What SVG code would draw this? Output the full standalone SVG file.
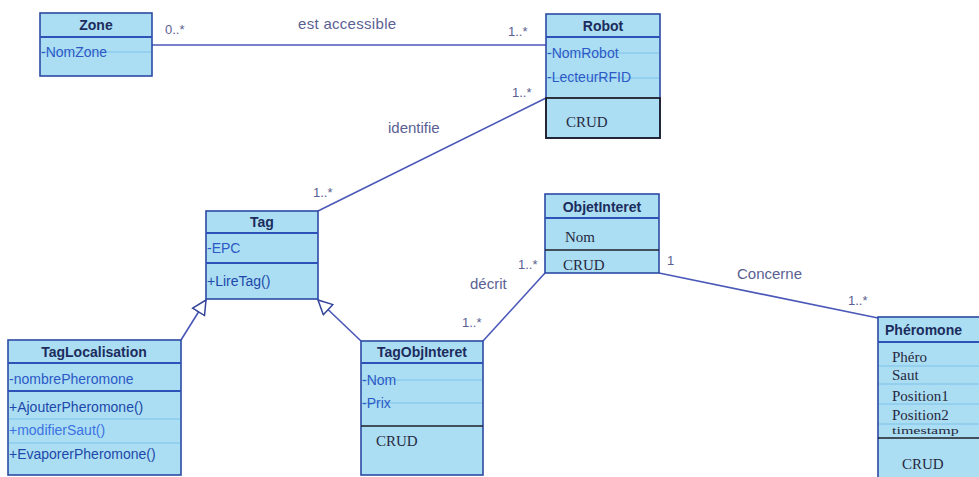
<svg xmlns="http://www.w3.org/2000/svg" width="979" height="477" viewBox="0 0 979 477">
  <style>
    .box { fill: #abdef2; stroke: #2b4aa3; stroke-width: 1.6; }
    .hdr { stroke: #2f52b8; stroke-width: 2; }
    .div { stroke: #1e1e2a; stroke-width: 1.6; }
    .row { stroke: #7cc0ea; stroke-width: 1; }
    .title { font-family: "Liberation Sans", Arial, sans-serif; font-size: 14px; font-weight: bold; fill: #1c2c5e; text-anchor: middle; }
    .attr { font-family: "Liberation Sans", Arial, sans-serif; font-size: 14px; fill: #2c59c6; }
    .op { font-family: "Liberation Sans", Arial, sans-serif; font-size: 14px; fill: #2048aa; }
    .op2 { font-family: "Liberation Sans", Arial, sans-serif; font-size: 14px; fill: #3b72e2; }
    .serif { font-family: "Liberation Serif", "Times New Roman", serif; font-size: 15px; fill: #27283e; }
    .lbl { font-family: "Liberation Sans", Arial, sans-serif; font-size: 15px; fill: #5a6192; }
    .mult { font-family: "Liberation Sans", Arial, sans-serif; font-size: 13px; fill: #5a6192; }
    .conn { stroke: #4a58b8; stroke-width: 1.6; fill: none; }
  </style>
  <defs>
    <marker id="gen" viewBox="0 0 16 16" refX="15" refY="8" markerWidth="16" markerHeight="16" markerUnits="userSpaceOnUse" orient="auto">
      <path d="M1,1 L15,8 L1,15 Z" fill="#ffffff" stroke="#34449a" stroke-width="1.5"/>
    </marker>
  </defs>

  <rect width="979" height="477" fill="#ffffff"/>

  <!-- associations and generalizations -->
  <g id="connectors">
    <line class="conn" x1="152" y1="45" x2="546" y2="45"/>
    <line class="conn" x1="546" y1="98" x2="318" y2="211"/>
    <line class="conn" x1="545" y1="273" x2="483" y2="341"/>
    <line class="conn" x1="659" y1="273" x2="878" y2="318"/>
    <line class="conn" x1="181" y1="340" x2="206" y2="300" marker-end="url(#gen)"/>
    <line class="conn" x1="361" y1="341" x2="318" y2="300" marker-end="url(#gen)"/>

    <text class="mult" x="165" y="34">0..*</text>
    <text class="lbl" x="298" y="29" letter-spacing="0.3">est accessible</text>
    <text class="mult" x="508" y="36">1..*</text>
    <text class="mult" x="512" y="97">1..*</text>
    <text class="lbl" x="388" y="133">identifie</text>
    <text class="mult" x="313" y="197">1..*</text>
    <text class="mult" x="518" y="269">1..*</text>
    <text class="lbl" x="470" y="289">décrit</text>
    <text class="mult" x="462" y="327">1..*</text>
    <text class="mult" x="667" y="265">1</text>
    <text class="lbl" x="737" y="279">Concerne</text>
    <text class="mult" x="848" y="305">1..*</text>
  </g>

  <g id="zone">
    <rect class="box" x="40" y="13" width="112" height="63"/>
    <line class="hdr" x1="40" y1="37" x2="152" y2="37"/>
    <line class="row" x1="41" y1="52" x2="151" y2="52"/>
    <text class="title" x="96" y="30">Zone</text>
    <text class="attr" x="41" y="57">-NomZone</text>
  </g>

  <g id="robot">
    <rect class="box" x="546" y="14" width="114" height="124"/>
    <line class="hdr" x1="546" y1="37" x2="660" y2="37"/>
    <line class="row" x1="547" y1="53" x2="659" y2="53"/>
    <line class="row" x1="547" y1="78" x2="659" y2="78"/>
    <rect x="546" y="98" width="114" height="40" fill="none" stroke="#1e1e2a" stroke-width="1.8"/>
    <text class="title" x="603" y="31">Robot</text>
    <text class="attr" x="547" y="58">-NomRobot</text>
    <text class="attr" x="547" y="82">-LecteurRFID</text>
    <text class="serif" x="566" y="127">CRUD</text>
  </g>

  <g id="tag">
    <rect class="box" x="206" y="211" width="112" height="88"/>
    <line class="hdr" x1="206" y1="233" x2="318" y2="233"/>
    <line class="hdr" x1="206" y1="263" x2="318" y2="263"/>
    <text class="title" x="262" y="227">Tag</text>
    <text class="attr" x="207" y="253">-EPC</text>
    <text class="op" x="207" y="286">+LireTag()</text>
  </g>

  <g id="tagLocalisation">
    <rect class="box" x="8" y="340" width="173" height="135"/>
    <line class="hdr" x1="8" y1="363" x2="181" y2="363"/>
    <line class="hdr" x1="8" y1="391" x2="181" y2="391"/>
    <line class="row" x1="9" y1="419" x2="180" y2="419"/>
    <line class="row" x1="9" y1="443" x2="180" y2="443"/>
    <text class="title" x="94" y="357">TagLocalisation</text>
    <text class="attr" x="9" y="384">-nombrePheromone</text>
    <text class="op" x="9" y="412">+AjouterPheromone()</text>
    <text class="op2" x="9" y="435">+modifierSaut()</text>
    <text class="op" x="9" y="459">+EvaporerPheromone()</text>
  </g>

  <g id="tagObjInteret">
    <rect class="box" x="361" y="341" width="122" height="134"/>
    <line class="hdr" x1="361" y1="363" x2="483" y2="363"/>
    <line class="row" x1="362" y1="380" x2="482" y2="380"/>
    <line class="row" x1="362" y1="403" x2="482" y2="403"/>
    <line class="div" x1="361" y1="426" x2="483" y2="426"/>
    <text class="title" x="422" y="357">TagObjInteret</text>
    <text class="attr" x="362" y="385">-Nom</text>
    <text class="attr" x="362" y="408">-Prix</text>
    <text class="serif" x="376" y="446">CRUD</text>
  </g>

  <g id="objetInteret">
    <rect class="box" x="545" y="194" width="114" height="79"/>
    <line class="hdr" x1="545" y1="218" x2="659" y2="218"/>
    <line class="div" x1="545" y1="250" x2="659" y2="250"/>
    <text class="title" x="602" y="212">ObjetInteret</text>
    <text class="serif" x="565" y="242">Nom</text>
    <text class="serif" x="563" y="270">CRUD</text>
  </g>

  <g id="pheromone">
    <rect class="box" x="878" y="317" width="120" height="170"/>
    <line class="hdr" x1="878" y1="342" x2="998" y2="342"/>
    <line class="row" x1="879" y1="366" x2="997" y2="366"/>
    <line class="row" x1="879" y1="384" x2="997" y2="384"/>
    <line class="row" x1="879" y1="404" x2="997" y2="404"/>
    <line class="row" x1="879" y1="424" x2="997" y2="424"/>
    <line class="div" x1="878" y1="438" x2="998" y2="438"/>
    <text class="title" x="885" y="335" style="text-anchor:start">Phéromone</text>
    <text class="serif" x="892" y="362">Phéro</text>
    <text class="serif" x="892" y="380">Saut</text>
    <text class="serif" x="892" y="401">Position1</text>
    <text class="serif" x="892" y="420">Position2</text>
    <text class="serif" transform="translate(892,434) scale(1,0.6)" x="0" y="0" style="font-size:16px">timestamp</text>
    <text class="serif" x="902" y="469">CRUD</text>
  </g>
</svg>
